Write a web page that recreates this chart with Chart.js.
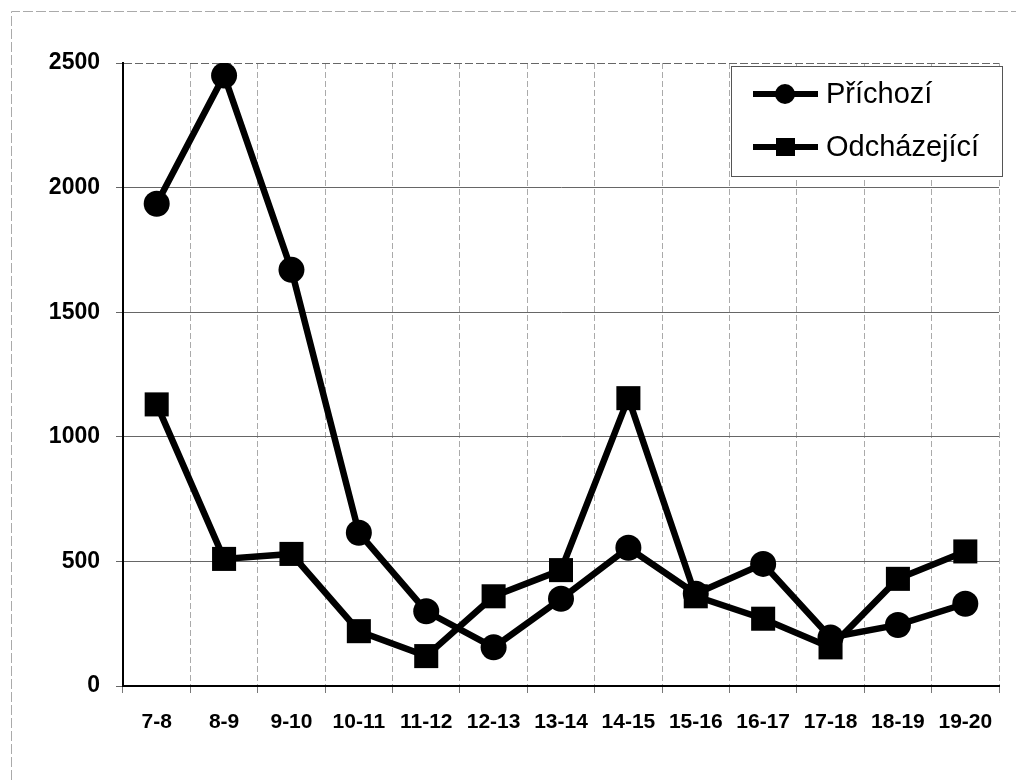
<!DOCTYPE html>
<html>
<head>
<meta charset="utf-8">
<script src="https://cdn.jsdelivr.net/npm/chart.js@4/dist/chart.umd.min.js"></script>
<style>
  body { margin: 0; background: #fff; }
  #wrap { width: 1016px; height: 780px; position: relative; }
</style>
</head>
<body>
<div id="wrap"><canvas id="chart" width="1016" height="780"></canvas></div>
<script>
// hourly intervals
const labels = ["7-8", "8-9", "9-10", "10-11", "11-12", "12-13", "13-14", "14-15", "15-16", "16-17", "17-18", "18-19", "19-20"];
// series
const prichozi = [1935, 2450, 1670, 615, 300, 155, 350, 555, 370, 490, 195, 245, 330];
const odchazejici = [1130, 510, 530, 220, 120, 360, 465, 1155, 360, 270, 155, 430, 540];
const seriesNames = ["Příchozí", "Odcházející"];
const yTicks = [0, 500, 1000, 1500, 2000, 2500];

Chart.defaults.font.family = "'Liberation Sans', Arial, sans-serif";
Chart.defaults.color = "#000";

// outer frame + legend box drawn on the canvas
const framePlugin = {
  id: "frame",
  beforeDraw(chart) {
    const ctx = chart.ctx;
    ctx.save();
    ctx.strokeStyle = "#aaa";
    ctx.lineWidth = 1;
    ctx.setLineDash([10, 3]);
    ctx.beginPath();
    ctx.moveTo(11.5, 780);
    ctx.lineTo(11.5, 11.5);
    ctx.lineTo(1016, 11.5);
    ctx.stroke();
    ctx.restore();
  },
  afterDraw(chart) {
    const ctx = chart.ctx;
    ctx.save();
    ctx.fillStyle = "#fff";
    ctx.fillRect(731, 66, 271, 110);
    ctx.strokeStyle = "#555";
    ctx.lineWidth = 1;
    ctx.strokeRect(731.5, 66.5, 271, 110);
    const rows = [94, 147];
    chart.data.datasets.slice().sort((a, b) => a.legendIdx - b.legendIdx).forEach((ds, i) => {
      const y = rows[i];
      ctx.strokeStyle = "#000";
      ctx.lineWidth = 6;
      ctx.beginPath();
      ctx.moveTo(753, y);
      ctx.lineTo(818, y);
      ctx.stroke();
      ctx.fillStyle = "#000";
      if (ds.pointStyle === "circle") {
        ctx.beginPath();
        ctx.arc(785, y, 10, 0, Math.PI * 2);
        ctx.fill();
      } else {
        ctx.fillRect(776, y - 9, 19, 18);
      }
      ctx.font = "29px 'Liberation Sans', Arial, sans-serif";
      ctx.textBaseline = "middle";
      ctx.textAlign = "left";
      ctx.fillText(ds.label, 826, y + 1);
    });
    ctx.restore();
  }
};

new Chart(document.getElementById("chart"), {
  type: "line",
  data: {
    labels: labels,
    datasets: [
      {
        label: seriesNames[1],
        legendIdx: 1,
        data: odchazejici,
        borderColor: "#000",
        backgroundColor: "#000",
        borderWidth: 6.5,
        pointStyle: "rect",
        pointRadius: 17,
        pointHoverRadius: 17,
        pointBorderWidth: 0,
        tension: 0,
        order: 0
      },
      {
        label: seriesNames[0],
        legendIdx: 0,
        data: prichozi,
        borderColor: "#000",
        backgroundColor: "#000",
        borderWidth: 6.5,
        pointStyle: "circle",
        pointRadius: 13,
        pointHoverRadius: 13,
        pointBorderWidth: 0,
        tension: 0,
        order: 1
      }
    ]
  },
  options: {
    responsive: false,
    animation: false,
    events: [],
    layout: { padding: { top: 63, right: 12, left: 0, bottom: 0 } },
    plugins: {
      legend: { display: false },
      tooltip: { enabled: false }
    },
    scales: {
      x: {
        offset: true,
        grid: {
          offset: true,
          color: "#aaa",
          lineWidth: 1,
          tickLength: 7,
          tickColor: "#777"
        },
        border: { color: "#000", width: 2, dash: [6, 3] },
        ticks: {
          autoSkip: false,
          maxRotation: 0,
          padding: 17,
          font: { size: 21, weight: "bold" }
        },
        afterFit(scale) { scale.height = 94; }
      },
      y: {
        min: 0,
        max: 2500,
        afterBuildTicks(scale) { scale.ticks = yTicks.map(v => ({ value: v })); },
        grid: {
          color: "#666",
          lineWidth: 1,
          tickLength: 7,
          tickColor: "#666"
        },
        border: {
          color: "#000",
          width: 2,
          dash: (c) => (c.tick && c.tick.value === 2500 ? [8, 3] : [])
        },
        ticks: {
          padding: 16,
          font: { size: 23, weight: "bold" },
          callback: (v) => String(v)
        },
        afterFit(scale) { scale.width = 123; }
      }
    }
  },
  plugins: [framePlugin]
});
</script>
</body>
</html>
